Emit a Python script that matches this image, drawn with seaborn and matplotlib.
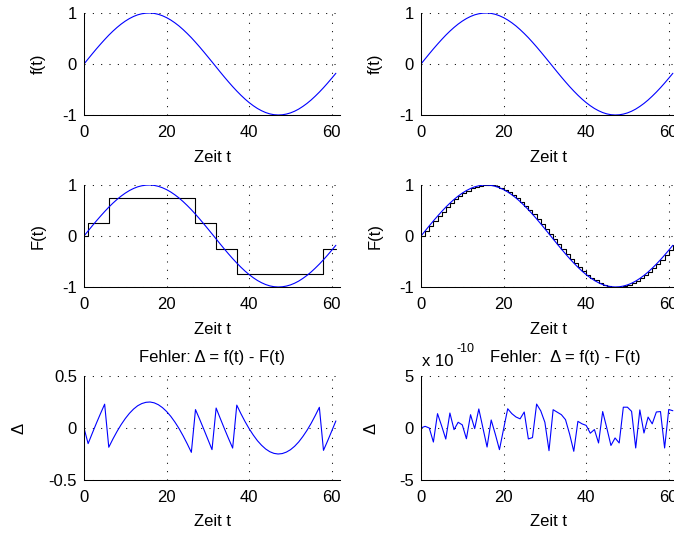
import matplotlib.pyplot as plt
import seaborn as sns

# Abtastzeitpunkte
t = [0, 1, 2, 3, 4, 5, 6, 7, 8, 9, 10, 11, 12, 13, 14, 15, 16, 17, 18, 19, 20,
     21, 22, 23, 24, 25, 26, 27, 28, 29, 30, 31, 32, 33, 34, 35, 36, 37, 38, 39, 40,
     41, 42, 43, 44, 45, 46, 47, 48, 49, 50, 51, 52, 53, 54, 55, 56, 57, 58, 59, 60, 61]

# Signal f(t)
f = [0.000, 0.100, 0.199, 0.296, 0.389, 0.479, 0.565, 0.644, 0.717, 0.783, 0.841,
     0.891, 0.932, 0.964, 0.985, 0.997, 1.000, 0.992, 0.974, 0.946, 0.909,
     0.863, 0.808, 0.746, 0.675, 0.598, 0.516, 0.427, 0.335, 0.239, 0.141,
     0.042, -0.058, -0.158, -0.256, -0.351, -0.443, -0.530, -0.612, -0.688, -0.757,
     -0.818, -0.872, -0.916, -0.952, -0.978, -0.994, -1.000, -0.996, -0.982, -0.959,
     -0.926, -0.884, -0.832, -0.773, -0.706, -0.631, -0.551, -0.465, -0.374, -0.279,
     -0.182]

# grob quantisiertes Signal F(t)
F_grob = [0, 0.25, 0.25, 0.25, 0.25, 0.25, 0.75, 0.75, 0.75, 0.75, 0.75,
          0.75, 0.75, 0.75, 0.75, 0.75, 0.75, 0.75, 0.75, 0.75, 0.75,
          0.75, 0.75, 0.75, 0.75, 0.75, 0.75, 0.25, 0.25, 0.25, 0.25,
          0.25, -0.25, -0.25, -0.25, -0.25, -0.25, -0.75, -0.75, -0.75, -0.75,
          -0.75, -0.75, -0.75, -0.75, -0.75, -0.75, -0.75, -0.75, -0.75, -0.75,
          -0.75, -0.75, -0.75, -0.75, -0.75, -0.75, -0.75, -0.25, -0.25, -0.25,
          -0.25]

# Fehler bei feiner Quantisierung (Einheit 1e-10)
delta_fein = [0.0, 0.16, 0.0, -1.35, 1.38, 0.2, -1.06, 1.44, -0.16, 0.55, 0.3,
              -1.03, 1.28, -0.06, 1.83, 0.0, -1.83, 0.77, -0.6, -2.08, -0.1,
              1.85, 1.38, 1.06, 0.88, 1.54, -1.05, -0.92, 2.3, 1.65, 0.55,
              -2.18, 1.76, 1.52, 1.28, 0.8, -0.6, -2.24, 0.64, 0.4, 0.25,
              -0.5, -0.15, -1.44, 1.58, 0.0, -1.68, -0.96, -1.44, 2.0, 2.0,
              1.6, -1.92, 1.74, -0.48, 1.05, 0.4, 1.54, 1.58, -1.92, 1.78,
              1.66]

delta_grob = [a - b for a, b in zip(f, F_grob)]

sns.set_style('white')
plt.rcParams['font.family'] = ['Liberation Sans', 'DejaVu Sans']
plt.rcParams['font.size'] = 12
plt.rcParams['axes.unicode_minus'] = False
plt.rcParams['axes.linewidth'] = 0.75
plt.rcParams['axes.edgecolor'] = 'black'
plt.rcParams['text.color'] = 'black'
plt.rcParams['axes.labelcolor'] = 'black'

W, H = 674, 534
fig = plt.figure(figsize=(W / 100, H / 100), dpi=100)


def make_ax(x0, top, bottom, width=256):
    return fig.add_axes([x0 / W, 1 - bottom / H, width / W, (bottom - top) / H])


def style(ax, ylim, yticks, yticklabels, ylabel, ylabel_x, height):
    ax.set_xlim(0, 62)
    ax.set_ylim(*ylim)
    ax.set_xticks([0, 20, 40, 60])
    ax.set_xticklabels(['0', '20', '40', '60'])
    ax.set_yticks(yticks)
    ax.set_yticklabels(yticklabels)
    ax.set_axisbelow(True)
    ax.grid(True, color='black', linestyle=(0, (1, 7)), linewidth=0.75)
    sns.despine(ax=ax)
    ax.tick_params(direction='in', length=3, width=0.75, colors='black')
    ax.tick_params(axis='x', pad=7)
    ax.tick_params(axis='y', pad=5)
    ax.set_xlabel('Zeit t', va='center')
    ax.xaxis.set_label_coords(0.5, -42 / height)
    ax.set_ylabel(ylabel, va='center', rotation_mode='anchor')
    ax.yaxis.set_label_coords(ylabel_x, 0.5)


blau = (0, 0, 1)
col_x = [84, 421]
rows = [(13, 115), (185, 287), (376, 480)]

# Zeile 1: f(t)
for x0 in col_x:
    ax = make_ax(x0, *rows[0])
    sns.lineplot(x=t, y=f, color=blau, linewidth=0.8, ax=ax)
    style(ax, (-1, 1), [-1, 0, 1], ['-1', '0', '1'], 'f(t)', -0.18, 102)

# Zeile 2: F(t) grob
ax = make_ax(col_x[0], *rows[1])
sns.lineplot(x=t, y=F_grob, color='black', linewidth=0.8, drawstyle='steps-post', ax=ax)
sns.lineplot(x=t, y=f, color=blau, linewidth=0.8, ax=ax)
style(ax, (-1, 1), [-1, 0, 1], ['-1', '0', '1'], 'F(t)', -0.18, 102)

# Zeile 2: F(t) fein
ax = make_ax(col_x[1], *rows[1])
sns.lineplot(x=t, y=f, color='black', linewidth=0.8, drawstyle='steps-post', ax=ax)
sns.lineplot(x=t, y=f, color=blau, linewidth=0.8, ax=ax)
style(ax, (-1, 1), [-1, 0, 1], ['-1', '0', '1'], 'F(t)', -0.18, 102)

# Zeile 3: Fehler grob
ax = make_ax(col_x[0], *rows[2])
sns.lineplot(x=t, y=delta_grob, color=blau, linewidth=0.8, ax=ax)
style(ax, (-0.5, 0.5), [-0.5, 0, 0.5], ['-0.5', '0', '0.5'], '\u0394', -0.254, 104)
fig.text(212 / W, 1 - 362 / H, 'Fehler: \u0394 = f(t) - F(t)', ha='center', va='baseline')

# Zeile 3: Fehler fein
ax = make_ax(col_x[1], *rows[2])
sns.lineplot(x=t, y=delta_fein, color=blau, linewidth=0.8, ax=ax)
style(ax, (-5, 5), [-5, 0, 5], ['-5', '0', '5'], '\u0394', -0.194, 104)
fig.text(421.5 / W, 1 - 366.5 / H, 'x 10', ha='left', va='baseline')
fig.text(456 / W, 1 - 352.5 / H, '-10', ha='left', va='baseline', fontsize=9)
fig.text(565 / W, 1 - 362 / H, 'Fehler:  \u0394 = f(t) - F(t)', ha='center', va='baseline')

fig.savefig('out.png', dpi=100)
